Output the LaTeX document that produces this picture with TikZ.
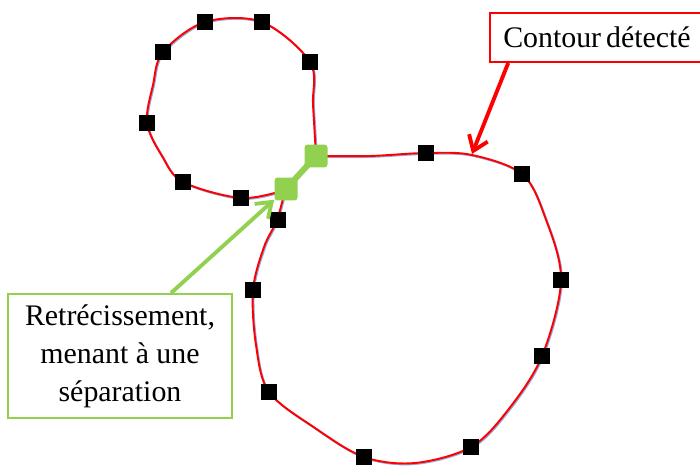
\documentclass[tikz,border=0pt]{standalone}
\usepackage{fontspec}
\setmainfont{Liberation Serif}
\usetikzlibrary{arrows.meta}
\definecolor{leaf}{RGB}{146,208,80}
\definecolor{halo}{RGB}{143,170,220}
\tikzset{
  pix/.style={fill=black,minimum size=0.32cm,inner sep=0pt},
  pinch/.style={fill=leaf,minimum size=0.46cm,inner sep=0pt,rounded corners=0.06cm},
  callout/.style={draw=#1,line width=1.1pt,fill=white,inner sep=0pt,align=center,
    font=\fontsize{17}{21.6}\selectfont},
}

\begin{document}
\begin{tikzpicture}[x=0.02cm,y=-0.02cm]
  \useasboundingbox (0,0) rectangle (700,466);
  % contour (blue halo under the red line)
  \foreach \d/\c in {0.9/halo,0/red}{
    \draw[\c,line width=1.1pt,shift={(\d,\d)}]
      plot[smooth,tension=0.55] coordinates {(316,156) (370,156) (426,153) (472,155) (522,174)
        (545,217) (561,280) (542,356) (508,410) (471,447) (415,463) (364,457) (315,428)
        (269,392) (256,345) (253,290) (264,247) (277,220) (285,190)}
      plot[smooth,tension=0.55] coordinates {(285,190) (241,198) (183,182) (162,156) (147,123)
        (153,85) (163,52) (205,22) (262,22) (310,62) (313,105) (316,156)};
  }
  \coordinate (hit) at (472,154);
  \foreach \p [count=\i] in {(205,22),(262,22),(310,62),(163,52),(147,123),(183,182),(241,198),
      (278,220),(253,290),(269,392),(364,457),(471,447),(542,356),(561,280),(522,174),(426,153)}
    \node[pix] (s\i) at \p {};
  \draw[leaf,line width=3.4pt] (316,156) -- (286,189);
  \node[pinch] (g1) at (316,156) {};
  \node[pinch] (g2) at (286,189) {};
  % callouts
  \node[callout=red,minimum width=4.28cm,minimum height=0.98cm] (cont) at (597,37.5) {Contour\,détecté};
  \node[callout=leaf,minimum width=4.48cm,minimum height=2.48cm] (sep) at (120,356)
    {Retrécissement,\\menant à une\\séparation};
  \draw[red,line width=2.2pt,-{Straight Barb[length=0.28cm,width=0.4cm]}] (cont.196) -- (hit);
  \draw[leaf,line width=2.2pt,-{Straight Barb[length=0.28cm,width=0.4cm]}] (sep.51) -- (g2);
\end{tikzpicture}
\end{document}
